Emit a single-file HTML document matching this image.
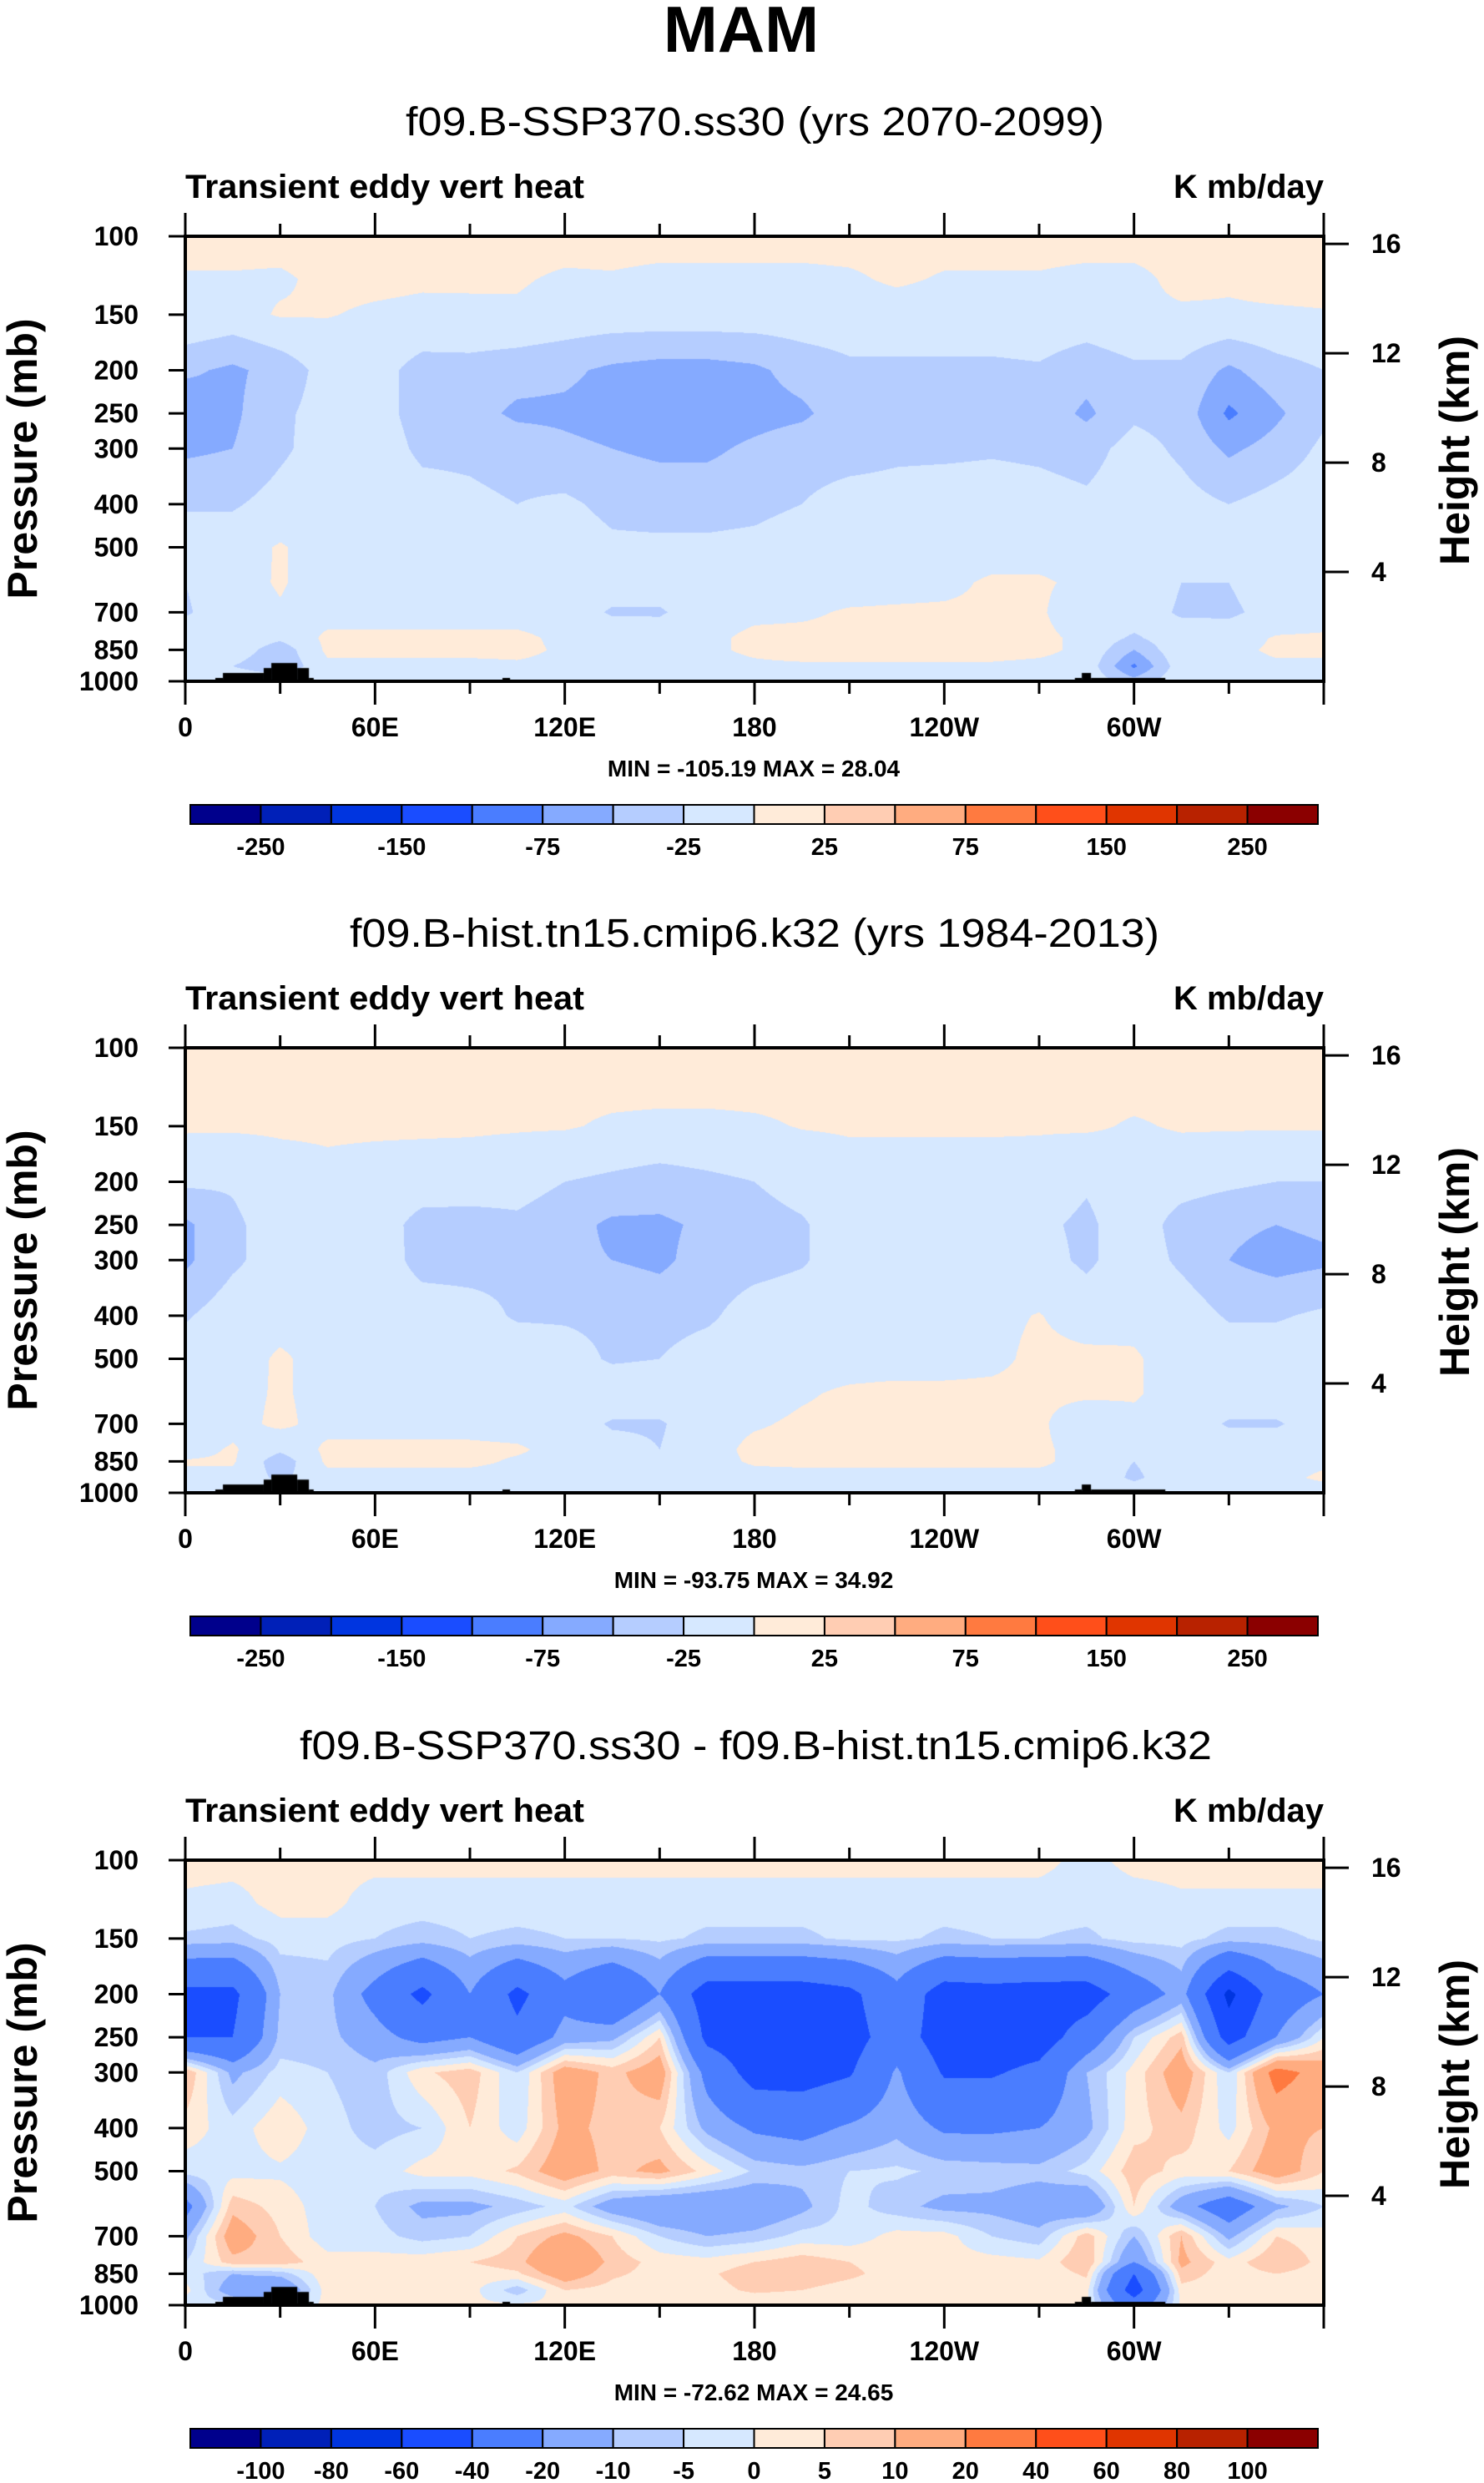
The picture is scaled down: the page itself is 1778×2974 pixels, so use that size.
<!DOCTYPE html>
<html><head><meta charset="utf-8"><style>
body{margin:0;background:#fff}
#root{position:relative;width:1778px;height:2974px;background:#fff;overflow:hidden;font-family:"Liberation Sans",sans-serif}
canvas{position:absolute}
svg{position:absolute;left:0;top:0}
text{font-family:"Liberation Sans",sans-serif;font-weight:bold;fill:#000}
</style></head><body>
<div id="root">
<canvas id="c0" width="1364" height="533" style="left:222px;top:283px"></canvas>
<canvas id="c1" width="1364" height="533" style="left:222px;top:1255px"></canvas>
<canvas id="c2" width="1364" height="533" style="left:222px;top:2228px"></canvas>
<svg id="ov" width="1778" height="2974">
<text x="888" y="62" font-size="78" text-anchor="middle">MAM</text>
</svg>
</div>
<script>
const lonStep = 15;
const pLevels = [100,125,150,200,250,300,400,500,600,700,800,850,925,1000];
const xTickLabels = ["0","60E","120E","180","120W","60W"];
const pTicks = [100,150,200,250,300,400,500,700,850,1000];
const hTicks = [4,8,12,16];
const levelsAbs = [-250,-200,-150,-100,-75,-50,-25,0,25,50,75,100,150,200,250];
const labelsAbs = ["-250","","-150","","-75","","-25","","25","","75","","150","","250"];
const levelsDiff = [-100,-80,-60,-40,-20,-10,-5,0,5,10,20,40,60,80,100];
const labelsDiff = ["-100","-80","-60","-40","-20","-10","-5","0","5","10","20","40","60","80","100"];
const colors = ["#00008c","#0020b8","#0035e0","#1a4dff","#4a7dff","#85aaff","#b5cdff","#d6e8ff","#ffebd9","#ffcdb3","#ffac80","#ff7a40","#ff4f1a","#e03500","#b82200","#8b0000"];
const topo = [[9.5,11.9,983],[11.9,24.8,958],[24.8,27.2,934],[27.2,35.4,910],[35.4,39.1,934],[39.1,40.6,983],[100.3,102.7,983],[281.3,283.5,983],[283.5,286.4,958],[286.4,309.9,983]];

const field1 = [
[8,8,8,8,8,8,8,8,8,8,8,8,8,8,8,8,8,8,8,8,8,8,8,8,8],
[-2,-2,-3,5,5,3,2,2,-3,-2,-5,-5,-5,-5,-3,3,-2,-2,-2,-5,-5,5,2,5,5],
[-1,-8,2,1,-3,-5,-3,-3,-8,-10,-10,-10,-10,-10,-10,-10,-10,-10,-8,-10,-3,-3,-2,-2,-1],
[-45,-55,-40,-15,-15,-35,-35,-40,-45,-55,-60,-60,-55,-40,-30,-30,-30,-30,-28,-40,-30,-30,-55,-35,-25],
[-70,-55,-30,-15,-15,-35,-40,-55,-55,-60,-65,-65,-60,-55,-35,-35,-35,-35,-35,-55,-30,-35,-80,-55,-30],
[-55,-50,-30,-12,-12,-30,-30,-35,-45,-50,-55,-55,-45,-35,-35,-30,-30,-28,-30,-35,-15,-30,-55,-40,-20],
[-28,-28,-15,-8,-8,-15,-20,-25,-20,-32,-35,-35,-32,-25,-15,-15,-12,-12,-15,-20,-10,-15,-25,-15,-10],
[-10,-10,2,-10,-10,-10,-10,-10,-10,-20,-20,-20,-18,-10,-10,-10,-10,-10,-10,-10,0,-10,-10,-8,-5],
[-25,-8,2,-10,-10,-10,-10,-10,-10,-12,-12,-10,-10,-10,-10,-8,-5,3,3,-5,0,-25,-25,-10,-10],
[-28,-10,-2,-10,-10,-10,-10,-10,-10,-28,-28,-10,-5,-3,2,3,3,3,3,-15,-5,-30,-30,-15,-10],
[-10,-5,-20,5,5,5,5,5,-5,-8,-10,-5,5,5,5,5,5,5,5,-5,-30,-5,-10,2,3],
[-10,-8,-40,5,5,5,5,5,-3,-5,-5,-3,3,8,8,8,8,8,5,-5,-50,-3,-5,3,3],
[-8,-25,-45,-5,-5,-5,-5,-3,-5,-5,-5,-5,-3,-3,-3,-3,-3,-3,-5,-8,-80,-8,-5,-3,-3],
[-5,-5,-5,-5,-5,-5,-5,-5,-5,-5,-5,-5,-5,-5,-5,-5,-5,-5,-5,-5,-40,-5,-5,-5,-5]
];
const field2 = [
[8,8,8,8,8,8,8,8,8,8,8,8,8,8,8,8,8,8,8,8,8,8,8,8,8],
[5,5,5,5,5,5,5,5,5,5,5,5,5,5,5,5,5,5,5,5,5,5,5,5,5],
[3,3,3,3,3,3,3,2,2,-3,-5,-5,-3,1,2,2,2,2,2,3,-2,2,2,2,2],
[-20,-22,-10,-5,-8,-10,-12,-15,-25,-30,-35,-30,-25,-15,-8,-8,-8,-8,-10,-22,-10,-15,-20,-25,-25],
[-55,-30,-12,-8,-10,-35,-35,-30,-40,-55,-55,-45,-35,-28,-10,-8,-8,-8,-20,-30,-10,-35,-45,-50,-45],
[-55,-30,-12,-8,-8,-35,-35,-30,-45,-50,-55,-40,-35,-28,-10,-8,-8,-8,-15,-30,-10,-30,-50,-60,-55],
[-28,-10,-8,-8,-8,-10,-15,-28,-28,-30,-35,-30,-12,-8,-8,-8,-8,-5,1,-10,-5,-10,-28,-28,-20],
[-10,-10,3,-8,-8,-8,-8,-8,-15,-28,-25,-12,-8,-8,-8,-8,-8,-5,5,5,2,-8,-8,-8,-8],
[-8,-8,3,-8,-8,-8,-8,-8,-8,-8,-8,-8,-8,-2,3,5,5,5,5,5,2,-8,-8,-8,-8],
[-25,-8,5,-8,-8,-8,-8,-10,-10,-28,-28,-8,-2,3,5,5,5,5,5,-20,-5,-8,-28,-28,-10],
[-10,3,-20,5,5,5,5,3,-8,-15,-25,-8,5,5,5,5,5,5,5,-10,-5,-8,-8,-8,-8],
[2,3,-40,5,5,5,5,-3,-8,-8,-8,-8,3,5,5,5,5,5,5,-10,-25,-8,-8,-8,-3],
[-5,-8,-30,-8,-8,-8,-8,-8,-8,-8,-8,-8,-8,-8,-8,-8,-8,-8,-8,-5,-30,-8,-8,-5,3],
[-8,-8,-8,-8,-8,-8,-8,-8,-8,-8,-8,-8,-8,-8,-8,-8,-8,-8,-8,-8,-8,-8,-8,-8,-8]
];
const field3 = [
[2,2,2,2,2,2,2,2,2,2,2,2,2,2,2,2,2,2,2,-2,2,2,2,2,2],
[-1,-2,2,2,-3,-3,-3,-3,-3,-3,-3,-3,-3,-3,-3,-3,-3,-3,-3,-3,-3,-1,-1,-1,-1],
[-6,-7,-3,-3,-5,-7,-5,-6,-5,-5,-4,-6,-6,-6,-4,-4,-6,-5,-5,-6,-3,-3,-7,-7,-4],
[-45,-45,-10,-8,-25,-45,-20,-45,-25,-40,-20,-50,-50,-50,-45,-25,-50,-48,-50,-50,-30,-15,-65,-30,-20],
[-40,-40,-8,-8,-15,-25,-20,-35,-15,-12,5,-45,-52,-52,-48,-30,-50,-52,-50,-30,-5,8,-50,-20,0],
[10,-12,-3,-5,-8,4,8,-5,15,8,15,-25,-48,-48,-42,-18,-42,-42,-35,-10,2,15,-5,25,15],
[3,-3,4,-3,-7,-5,5,-3,12,8,5,-12,-22,-25,-18,-12,-22,-22,-20,-12,3,8,-2,12,10],
[-3,-2,-1,-3,-3,2,2,6,15,8,12,3,-6,-8,-5,-4,-6,-7,-8,-3,8,3,5,15,5],
[-25,8,3,-3,-5,-12,-12,-8,-3,-15,-20,-20,-18,-12,-3,-8,-12,-12,-15,-20,5,-15,-30,-12,-5],
[-12,15,5,-3,-3,-7,-5,5,12,5,-5,-10,-8,-3,-3,2,2,-5,-8,8,-10,10,-12,5,2],
[-5,8,8,2,2,3,5,8,20,8,3,2,5,8,5,3,2,2,1,10,-20,12,2,10,3],
[-2,-10,-8,4,3,3,2,4,15,6,3,4,8,8,6,3,2,2,1,6,-40,8,2,5,2],
[2,-15,-20,3,3,2,2,-8,5,3,2,3,6,5,3,2,2,2,1,2,-50,3,2,2,2],
[-3,-3,-3,1,1,1,1,1,1,1,1,1,1,1,1,1,1,1,1,1,-30,1,1,1,1]
];

const W = 1364, H = 533, X0 = 222;
const tops = [283, 1255, 2228];
const LN10 = Math.log(10);
function yOfP(top, p){ return top + H*(1 - Math.log(1000/p)/LN10); }
function xOfLon(lon){ return X0 + lon/360*W; }
function hexToRgb(h){ return [parseInt(h.substr(1,2),16),parseInt(h.substr(3,2),16),parseInt(h.substr(5,2),16)]; }
const rgb = colors.map(hexToRgb);

function drawField(cv, field, levels){
  const ctx = cv.getContext('2d');
  const img = ctx.createImageData(W, H);
  const lnP = pLevels.map(p=>Math.log(p));
  for (let py=0; py<H; py++){
    const L = LN10*(1-(py+0.5)/H);
    const lp = Math.log(1000) - L;
    let k = 0;
    while (k < pLevels.length-2 && lp > lnP[k+1]) k++;
    let tp = (lp - lnP[k])/(lnP[k+1]-lnP[k]);
    tp = Math.max(0, Math.min(1, tp));
    for (let px=0; px<W; px++){
      const lon = (px+0.5)/W*360;
      let i = Math.min(Math.floor(lon/lonStep), field[0].length-2);
      const tl = (lon - i*lonStep)/lonStep;
      const a = field[k][i]*(1-tl) + field[k][i+1]*tl;
      const b = field[k+1][i]*(1-tl) + field[k+1][i+1]*tl;
      const v = a*(1-tp) + b*tp;
      let idx = 0;
      while (idx < levels.length && v > levels[idx]) idx++;
      const c = rgb[idx];
      const o = (py*W+px)*4;
      img.data[o]=c[0]; img.data[o+1]=c[1]; img.data[o+2]=c[2]; img.data[o+3]=255;
    }
  }
  ctx.putImageData(img, 0, 0);
  ctx.fillStyle = '#000';
  topo.forEach(s=>{
    const x1 = s[0]/360*W, x2 = s[1]/360*W;
    const y1 = H*(1 - Math.log(1000/s[2])/LN10);
    ctx.fillRect(x1, y1, x2-x1, H-y1);
  });
}
drawField(document.getElementById('c0'), field1, levelsAbs);
drawField(document.getElementById('c1'), field2, levelsAbs);
drawField(document.getElementById('c2'), field3, levelsDiff);

const NS = 'http://www.w3.org/2000/svg';
const svg = document.getElementById('ov');
function mk(tag, attrs, txt){
  const e = document.createElementNS(NS, tag);
  for (const k in attrs) e.setAttribute(k, attrs[k]);
  if (txt !== undefined) e.textContent = txt;
  svg.appendChild(e);
  return e;
}
const subtitles = [
  ["f09.B-SSP370.ss30 (yrs 2070-2099)", 486, 1323],
  ["f09.B-hist.tn15.cmip6.k32 (yrs 1984-2013)", 419, 1389],
  ["f09.B-SSP370.ss30 - f09.B-hist.tn15.cmip6.k32", 359, 1452]
];
const minmax = ["MIN = -105.19  MAX =  28.04", "MIN = -93.75  MAX =  34.92", "MIN = -72.62  MAX =  24.65"];

for (let n=0; n<3; n++){
  const top = tops[n];
  const st = mk('text', {x: subtitles[n][1], y: top-121, 'font-size': 48, textLength: subtitles[n][2]-subtitles[n][1], lengthAdjust:'spacingAndGlyphs', style:'font-weight:normal'}, subtitles[n][0]);
  
  
  const lt = mk('text', {x: 222, y: top-46, 'font-size': 40, textLength: 478, lengthAdjust:'spacingAndGlyphs'}, 'Transient eddy vert heat');
  
  
  const ut = mk('text', {x: 1586, y: top-46, 'font-size': 40, 'text-anchor':'end'}, 'K mb/day');
  
  
  const fr = mk('rect', {x: X0, y: top, width: W, height: H, fill:'none', stroke:'#000', 'stroke-width': 4});
  
  
  for (let lon=0; lon<=360; lon+=30){
    const x = xOfLon(lon);
    const major = lon % 60 === 0;
    const len = major ? 28 : 15;
    const tb = mk('line', {x1:x, x2:x, y1: top+H, y2: top+H+len, stroke:'#000', 'stroke-width':3});
    
    
    const tt = mk('line', {x1:x, x2:x, y1: top, y2: top-len, stroke:'#000', 'stroke-width':3});
    
    
    if (major && lon < 360){
      const xl = mk('text', {x:x, y: top+H+66, 'font-size': 32, 'text-anchor':'middle'}, xTickLabels[lon/60]);
      
      
    }
  }
  pTicks.forEach(p=>{
    const y = yOfP(top, p);
    const tk = mk('line', {x1: X0-20, x2: X0, y1:y, y2:y, stroke:'#000', 'stroke-width':3});
    
    
    const tl = mk('text', {x: 166, y: y+11, 'font-size': 32, 'text-anchor':'end'}, String(p));
    
    
  });
  hTicks.forEach(z=>{
    const L = z/7.07;
    const y = top + H*(1 - L/LN10);
    const tk = mk('line', {x1: X0+W, x2: X0+W+30, y1:y, y2:y, stroke:'#000', 'stroke-width':3});
    
    
    const tl = mk('text', {x: 1643, y: y+11, 'font-size': 32}, String(z));
    
    
  });
  const yl = mk('text', {x: 0, y: 0, 'font-size': 50, 'text-anchor':'middle', transform:`translate(44,${top+H/2}) rotate(-90)`}, 'Pressure (mb)');
  
  
  const yr = mk('text', {x: 0, y: 0, 'font-size': 50, 'text-anchor':'middle', transform:`translate(1760,${top+H/2-10}) rotate(-90)`}, 'Height (km)');
  
  
  const mm = mk('text', {x: 903, y: top+647, 'font-size': 28, 'text-anchor':'middle', 'xml:space':'preserve'}, minmax[n]);
  
  
  const cbY = top+681, cbH = 23, cbX = 228, cbW = 1351;
  const bw = cbW/16;
  const labs = n<2 ? labelsAbs : labelsDiff;
  for (let i=0; i<16; i++){
    const r = mk('rect', {x: cbX+i*bw, y: cbY, width: bw, height: cbH, fill: colors[i], stroke:'#000', 'stroke-width': 2});
    
    
  }
  for (let i=0; i<15; i++){
    if (!labs[i]) continue;
    const t = mk('text', {x: cbX+(i+1)*bw, y: top+741, 'font-size': 29, 'text-anchor':'middle'}, labs[i]);
    
    
  }
}
</script>
</body></html>
